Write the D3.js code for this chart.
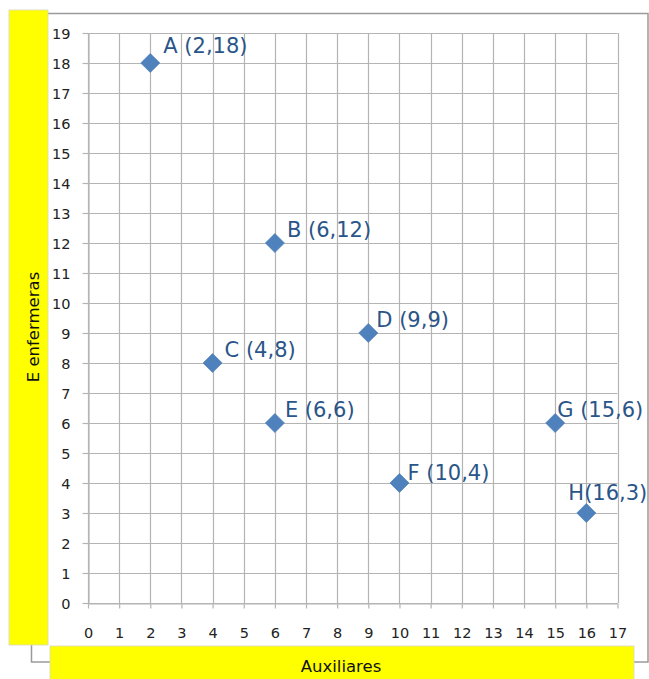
<!DOCTYPE html>
<html>
<head>
<meta charset="utf-8">
<script src="https://cdn.jsdelivr.net/npm/d3@7"></script>
<style>
  html, body { margin: 0; padding: 0; background: #fff; }
  svg { display: block; }
</style>
</head>
<body>
<svg id="chart" width="649" height="679"></svg>
<script>
// Point names and coordinates (auxiliares, enfermeras)
const pointNames = ["A", "B", "C", "D", "E", "F", "G", "H"];
const auxiliares = [2, 6, 4, 9, 6, 10, 15, 16];
const enfermeras = [18, 12, 8, 9, 6, 4, 6, 3];
const pointLabels = ["A (2,18)", "B (6,12)", "C (4,8)", "D (9,9)", "E (6,6)", "F (10,4)", "G (15,6)", "H(16,3)"];

// Axis ticks
const xTickValues = d3.range(0, 18);
const yTickValues = d3.range(0, 20);

const xTitle = "Auxiliares";
const yTitle = "E enfermeras";

const svg = d3.select("#chart");

const plot = { left: 88, right: 617.5, top: 33, bottom: 603 };

const x = d3.scaleLinear().domain([0, 17]).range([plot.left, plot.right]);
const y = d3.scaleLinear().domain([0, 19]).range([plot.bottom, plot.top]);

const gridColor = "#b4b4b4";
const labelFont = "'DejaVu Sans', Verdana, sans-serif";

// Outer chart frame
svg.append("rect")
  .attr("x", 31.5).attr("y", 13.5)
  .attr("width", 648 - 31.5).attr("height", 662 - 13.5)
  .attr("fill", "#fff")
  .attr("stroke", "#9a9a9a")
  .attr("stroke-width", 1.5);

// Gridlines
const grid = svg.append("g").attr("class", "grid");
grid.selectAll("line.v").data(xTickValues).join("line")
  .attr("class", "v")
  .attr("x1", d => Math.round(x(d)) + 0.5).attr("x2", d => Math.round(x(d)) + 0.5)
  .attr("y1", plot.top).attr("y2", plot.bottom)
  .attr("stroke", gridColor).attr("stroke-width", 1.2);
grid.selectAll("line.h").data(yTickValues).join("line")
  .attr("class", "h")
  .attr("x1", plot.left).attr("x2", plot.right)
  .attr("y1", d => Math.round(y(d)) + 0.5).attr("y2", d => Math.round(y(d)) + 0.5)
  .attr("stroke", gridColor).attr("stroke-width", 1.2);

// Axes with tick marks and labels
const xAxis = svg.append("g")
  .attr("transform", `translate(0,${Math.round(y(0)) + 0.5})`)
  .call(d3.axisBottom(x).tickValues(xTickValues).tickSize(5).tickSizeOuter(0).tickPadding(19));
const yAxis = svg.append("g")
  .attr("transform", `translate(${Math.round(x(0)) + 0.5},0)`)
  .call(d3.axisLeft(y).tickValues(yTickValues).tickSize(6).tickSizeOuter(0).tickPadding(12));

[xAxis, yAxis].forEach(g => {
  g.select(".domain").attr("stroke", gridColor).attr("stroke-width", 1.2);
  g.selectAll(".tick line").attr("stroke", gridColor).attr("stroke-width", 1.2);
  g.selectAll(".tick text")
    .attr("fill", "#222")
    .style("font-family", labelFont)
    .style("font-size", "14.5px");
});
yAxis.selectAll(".tick text").attr("dy", "0.36em");

// Yellow title bands
svg.append("rect")
  .attr("x", 9).attr("y", 10).attr("width", 39).attr("height", 635)
  .attr("fill", "#ffff00").attr("stroke", "#d8d8c0").attr("stroke-width", 0.8);
svg.append("rect")
  .attr("x", 50).attr("y", 646).attr("width", 584).attr("height", 36)
  .attr("fill", "#ffff00").attr("stroke", "#d8d8c0").attr("stroke-width", 0.8);

svg.append("text")
  .attr("x", 341).attr("y", 672)
  .attr("text-anchor", "middle")
  .style("font-family", labelFont).style("font-size", "16.5px")
  .attr("fill", "#111")
  .text(xTitle);
svg.append("text")
  .attr("transform", "translate(39,327) rotate(-90)")
  .attr("text-anchor", "middle")
  .style("font-family", labelFont).style("font-size", "16.5px")
  .attr("fill", "#111")
  .text(yTitle);

// Points
const pts = pointNames.map((n, i) => ({ name: n, x: auxiliares[i], y: enfermeras[i], label: pointLabels[i] }));

const diamond = d3.symbol().type(d3.symbolSquare).size(182);
svg.append("g").selectAll("path").data(pts).join("path")
  .attr("d", diamond)
  .attr("transform", d => `translate(${x(d.x)},${y(d.y)}) rotate(45)`)
  .attr("fill", "#4f81bd")
  .attr("stroke", "#4a7ab4")
  .attr("stroke-width", 0.6);

// Label placement relative to each marker (dx, baseline dy)
const labelNudge = {
  A: [13, -10], B: [12, -6], C: [12, -6], D: [8, -6],
  E: [10, -6], F: [8, -3], G: [2, -6], H: [-18, -13]
};
svg.append("g").selectAll("text").data(pts).join("text")
  .attr("x", d => x(d.x) + labelNudge[d.name][0])
  .attr("y", d => y(d.y) + labelNudge[d.name][1])
  .style("font-family", labelFont)
  .style("font-size", "21px")
  .attr("fill", "#2a5588")
  .text(d => d.label);
</script>
</body>
</html>
